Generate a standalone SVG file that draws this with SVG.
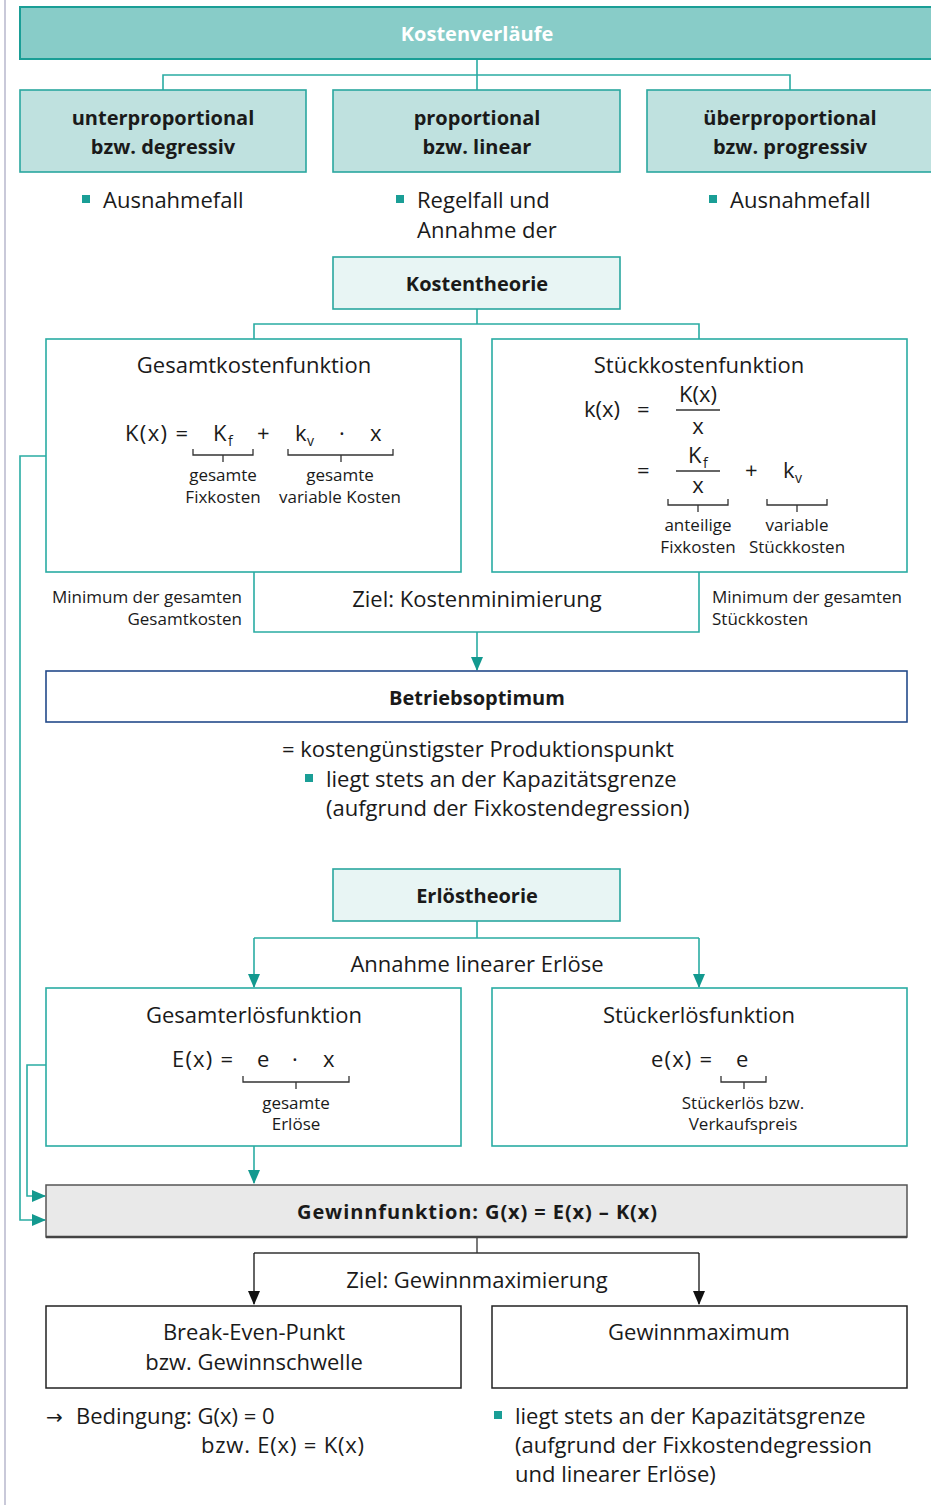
<svg xmlns="http://www.w3.org/2000/svg" width="931" height="1505" viewBox="0 0 931 1505">
<defs>
<style>
text{font-family:"Open Sans","Noto Sans","Liberation Sans",sans-serif;fill:#1a1a1a}
.t{font-size:22px}
.s{font-size:17px}
.sub{font-size:14px}
.b{font-size:20px;font-weight:bold}
.c{text-anchor:middle}
.r{text-anchor:end}
.w{fill:#ffffff}
.tl{fill:none;stroke:#2aaca3;stroke-width:1.6}
.br{fill:none;stroke:#333;stroke-width:1.3}
.bul{fill:#1a9e96}
.arr{font-family:"DejaVu Sans",sans-serif}
</style>
<marker id="at" markerWidth="14" markerHeight="12" refX="13" refY="6" orient="auto" markerUnits="userSpaceOnUse">
<path d="M0,0 L14,6 L0,12 Z" fill="#13998f"/>
</marker>
<marker id="ab" markerWidth="14" markerHeight="12" refX="13" refY="6" orient="auto" markerUnits="userSpaceOnUse">
<path d="M0,0 L14,6 L0,12 Z" fill="#111"/>
</marker>
</defs>
<rect x="0" y="0" width="931" height="1505" fill="#ffffff"/>
<line x1="5" y1="0" x2="5" y2="1505" stroke="#c9c9d9" stroke-width="2"/>

<g id="connectors">
<path class="tl" d="M477,59 V90 M163,90 V75 H790 V90"/>
<path class="tl" d="M477,309 V324 M254,339 V324 H699 V339"/>
<path class="tl" d="M254,572 V632 H699 V572"/>
<path class="tl" d="M477,632 V670" marker-end="url(#at)"/>
<path class="tl" d="M477,921 V938 M254,938 H699"/>
<path class="tl" d="M254,938 V987" marker-end="url(#at)"/>
<path class="tl" d="M699,938 V987" marker-end="url(#at)"/>
<path class="tl" d="M254,1146 V1183" marker-end="url(#at)"/>
<path class="tl" d="M46,456 H20 V1220 H45" marker-end="url(#at)"/>
<path class="tl" d="M46,1065 H27 V1196 H45" marker-end="url(#at)"/>
<path fill="none" stroke="#333" stroke-width="1.3" d="M477,1237 V1253 M254,1253 H699"/>
<path fill="none" stroke="#111" stroke-width="1.3" d="M254,1253 V1304" marker-end="url(#ab)"/>
<path fill="none" stroke="#111" stroke-width="1.3" d="M699,1253 V1304" marker-end="url(#ab)"/>
</g>

<g id="kostenverlaeufe">
<rect x="20" y="7" width="920" height="52" fill="#88ccc8" stroke="#1a9e96" stroke-width="2"/>
<text class="b c w" x="477" y="41">Kostenverläufe</text>
</g>

<g id="unterproportional">
<rect x="20" y="90" width="286" height="82" fill="#bfe1df" stroke="#2aa79f" stroke-width="1.6"/>
<text class="b c" x="163" y="125">unterproportional</text>
<text class="b c" x="163" y="154">bzw. degressiv</text>
<rect class="bul" x="82" y="195" width="8" height="8"/>
<text class="t" x="103" y="208">Ausnahmefall</text>
</g>

<g id="proportional">
<rect x="333" y="90" width="287" height="82" fill="#bfe1df" stroke="#2aa79f" stroke-width="1.6"/>
<text class="b c" x="477" y="125">proportional</text>
<text class="b c" x="477" y="154">bzw. linear</text>
<rect class="bul" x="396" y="195" width="8" height="8"/>
<text class="t" x="417" y="208">Regelfall und</text>
<text class="t" x="417" y="238">Annahme der</text>
</g>

<g id="ueberproportional">
<rect x="647" y="90" width="293" height="82" fill="#bfe1df" stroke="#2aa79f" stroke-width="1.6"/>
<text class="b c" x="790" y="125">überproportional</text>
<text class="b c" x="790" y="154">bzw. progressiv</text>
<rect class="bul" x="709" y="195" width="8" height="8"/>
<text class="t" x="730" y="208">Ausnahmefall</text>
</g>

<g id="kostentheorie">
<rect x="333" y="257" width="287" height="52" fill="#e8f5f4" stroke="#2aa79f" stroke-width="1.6"/>
<text class="b c" x="477" y="291">Kostentheorie</text>
</g>

<g id="gesamtkostenfunktion">
<rect x="46" y="339" width="415" height="233" fill="#ffffff" stroke="#2aaca3" stroke-width="1.6"/>
<text class="t c" x="254" y="373">Gesamtkostenfunktion</text>
<text class="t" x="125" y="441" textLength="63" lengthAdjust="spacing">K(x) =</text>
<text class="t" x="213" y="441">K</text>
<text class="sub" x="228" y="446">f</text>
<text class="t" x="257" y="441">+</text>
<text class="t" x="295" y="441">k</text>
<text class="sub" x="307" y="446">v</text>
<text class="t" x="339" y="441">·</text>
<text class="t" x="370" y="441">x</text>
<path class="br" d="M193,449 V455 H253 V449 M223,455 V462"/>
<path class="br" d="M288,449 V455 H393 V449 M341,455 V462"/>
<text class="s c" x="223" y="481">gesamte</text>
<text class="s c" x="223" y="503">Fixkosten</text>
<text class="s c" x="340" y="481">gesamte</text>
<text class="s c" x="340" y="503">variable Kosten</text>
</g>

<g id="stueckkostenfunktion">
<rect x="492" y="339" width="415" height="233" fill="#ffffff" stroke="#2aaca3" stroke-width="1.6"/>
<text class="t c" x="699" y="373">Stückkostenfunktion</text>
<text class="t" x="584" y="417">k(x)</text>
<text class="t" x="637" y="417">=</text>
<text class="t c" x="698" y="402">K(x)</text>
<line x1="676" y1="410" x2="720" y2="410" stroke="#333" stroke-width="1.3"/>
<text class="t c" x="698" y="434">x</text>
<text class="t" x="637" y="478">=</text>
<text class="t" x="688" y="463">K</text>
<text class="sub" x="703" y="468">f</text>
<line x1="676" y1="471" x2="720" y2="471" stroke="#333" stroke-width="1.3"/>
<text class="t c" x="698" y="493">x</text>
<text class="t" x="745" y="478">+</text>
<text class="t" x="783" y="478">k</text>
<text class="sub" x="795" y="483">v</text>
<path class="br" d="M668,499 V505 H728 V499 M698,505 V512"/>
<path class="br" d="M767,499 V505 H827 V499 M797,505 V512"/>
<text class="s c" x="698" y="531">anteilige</text>
<text class="s c" x="698" y="553">Fixkosten</text>
<text class="s c" x="797" y="531">variable</text>
<text class="s c" x="797" y="553">Stückkosten</text>
</g>

<g id="kostenminimierung">
<text class="t c" x="477" y="607">Ziel: Kostenminimierung</text>
<text class="s r" x="242" y="603">Minimum der gesamten</text>
<text class="s r" x="242" y="625">Gesamtkosten</text>
<text class="s" x="712" y="603">Minimum der gesamten</text>
<text class="s" x="712" y="625">Stückkosten</text>
</g>

<g id="betriebsoptimum">
<rect x="46" y="671" width="861" height="51" fill="#ffffff" stroke="#234a8a" stroke-width="1.6"/>
<text class="b c" x="477" y="705">Betriebsoptimum</text>
<text class="t" x="282" y="757">= kostengünstigster Produktionspunkt</text>
<rect class="bul" x="305" y="774" width="8" height="8"/>
<text class="t" x="326" y="787">liegt stets an der Kapazitätsgrenze</text>
<text class="t" x="326" y="816">(aufgrund der Fixkostendegression)</text>
</g>

<g id="erloestheorie">
<rect x="333" y="869" width="287" height="52" fill="#e8f5f4" stroke="#2aa79f" stroke-width="1.6"/>
<text class="b c" x="477" y="903">Erlöstheorie</text>
<text class="t c" x="477" y="972">Annahme linearer Erlöse</text>
</g>

<g id="gesamterloesfunktion">
<rect x="46" y="988" width="415" height="158" fill="#ffffff" stroke="#2aaca3" stroke-width="1.6"/>
<text class="t c" x="254" y="1023">Gesamterlösfunktion</text>
<text class="t" x="172" y="1067" textLength="61" lengthAdjust="spacing">E(x) =</text>
<text class="t" x="257" y="1067">e</text>
<text class="t" x="292" y="1067">·</text>
<text class="t" x="323" y="1067">x</text>
<path class="br" d="M243,1076 V1082 H349 V1076 M296,1082 V1089"/>
<text class="s c" x="296" y="1109">gesamte</text>
<text class="s c" x="296" y="1130">Erlöse</text>
</g>

<g id="stueckerloesfunktion">
<rect x="492" y="988" width="415" height="158" fill="#ffffff" stroke="#2aaca3" stroke-width="1.6"/>
<text class="t c" x="699" y="1023">Stückerlösfunktion</text>
<text class="t" x="651" y="1067" textLength="61" lengthAdjust="spacing">e(x) =</text>
<text class="t" x="736" y="1067">e</text>
<path class="br" d="M721,1076 V1082 H766 V1076 M744,1082 V1089"/>
<text class="s c" x="743" y="1109">Stückerlös bzw.</text>
<text class="s c" x="743" y="1130">Verkaufspreis</text>
</g>

<g id="gewinnfunktion">
<rect x="46" y="1185" width="861" height="52" fill="#e9e9e9" stroke="#555" stroke-width="1.5"/>
<line x1="46" y1="1237" x2="907" y2="1237" stroke="#444" stroke-width="2.5"/>
<text class="b c" x="477" y="1219" textLength="360" lengthAdjust="spacing">Gewinnfunktion: G(x) = E(x) – K(x)</text>
<text class="t c" x="477" y="1288">Ziel: Gewinnmaximierung</text>
</g>

<g id="breakeven">
<rect x="46" y="1306" width="415" height="82" fill="#ffffff" stroke="#222" stroke-width="1.5"/>
<text class="t c" x="254" y="1340">Break-Even-Punkt</text>
<text class="t c" x="254" y="1370">bzw. Gewinnschwelle</text>
<text class="t" x="46" y="1424"><tspan class="arr" font-size="20">→</tspan><tspan x="76">Bedingung: G(x) = 0</tspan></text>
<text class="t" x="201" y="1453" textLength="163" lengthAdjust="spacing">bzw. E(x) = K(x)</text>
</g>

<g id="gewinnmaximum">
<rect x="492" y="1306" width="415" height="82" fill="#ffffff" stroke="#222" stroke-width="1.5"/>
<text class="t c" x="699" y="1340">Gewinnmaximum</text>
<rect class="bul" x="494" y="1411" width="8" height="8"/>
<text class="t" x="515" y="1424">liegt stets an der Kapazitätsgrenze</text>
<text class="t" x="515" y="1453">(aufgrund der Fixkostendegression</text>
<text class="t" x="515" y="1482">und linearer Erlöse)</text>
</g>
</svg>
